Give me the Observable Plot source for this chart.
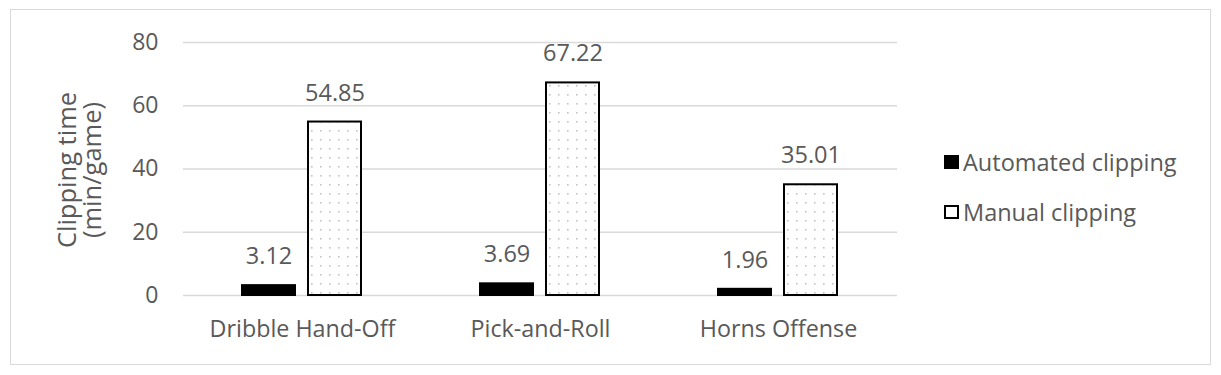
<!DOCTYPE html>
<html>
<head>
<meta charset="utf-8">
<script src="https://cdn.jsdelivr.net/npm/d3@7"></script>
<script src="https://cdn.jsdelivr.net/npm/@observablehq/plot@0.6"></script>
<style>
  html, body { margin: 0; padding: 0; background: #fff; }
  body { width: 1221px; height: 375px; position: relative; overflow: hidden; font-family: "Open Sans", sans-serif; }
  #frame { position: absolute; left: 10px; top: 9px; width: 1201px; height: 356px; box-sizing: border-box; border: 1.5px solid #d9d9d9; }
  #chart { position: absolute; left: 0; top: 0; }
  #ylabel { position: absolute; left: 79px; top: 170px; transform: translate(-50%, -50%) rotate(-90deg); text-align: center; color: #595959; font-size: 25.5px; line-height: 25px; white-space: nowrap; }
  #legend { position: absolute; left: 944px; top: 146px; color: #595959; font-size: 23.5px; }
  .item { display: flex; align-items: center; height: 32px; margin-bottom: 18px; white-space: nowrap; }
  .sw { width: 15px; height: 14px; box-sizing: border-box; margin-right: 4px; }
</style>
</head>
<body>
<div id="frame"></div>
<div id="chart"></div>
<div id="ylabel">Clipping time<br>(min/game)</div>
<div id="legend"></div>
<script>
const categories = ["Dribble Hand-Off", "Pick-and-Roll", "Horns Offense"];
const series = ["Automated clipping", "Manual clipping"];
const automated = [3.12, 3.69, 1.96];
const manual = [54.85, 67.22, 35.01];
const yTicks = [0, 20, 40, 60, 80];

const data = categories.flatMap((c, i) => [
  {category: c, series: series[0], value: automated[i]},
  {category: c, series: series[1], value: manual[i]}
]);

const fills = {"Automated clipping": "#000000", "Manual clipping": "url(#dots)"};

const chart = Plot.plot({
  width: 930,
  height: 375,
  marginLeft: 182,
  marginRight: 33,
  marginTop: 42,
  marginBottom: 80,
  style: {fontFamily: "'Open Sans', sans-serif", background: "transparent"},
  fx: {domain: categories, padding: 0, label: null},
  x: {domain: series, axis: null, paddingInner: 0.194, paddingOuter: 0.876},
  y: {domain: [0, 80], label: null},
  marks: [
    Plot.gridY(yTicks, {stroke: "#d9d9d9", strokeOpacity: 1, strokeWidth: 1.5}),
    Plot.axisY(yTicks, {tickSize: 0, tickPadding: 25, fontSize: 23, fill: "#595959", label: null}),
    Plot.axisFx({anchor: "bottom", tickSize: 0, tickPadding: 25, fontSize: 23.3, fill: "#595959", label: null}),
    Plot.barY(data, {fx: "category", x: "series", y: "value", fill: d => fills[d.series], stroke: "#000", strokeWidth: 2}),
    Plot.text(data, {fx: "category", x: "series", y: "value", text: d => d.value.toFixed(2), dy: -29, fontSize: 23.5, fill: "#595959"})
  ]
});

// dotted pattern for manual bars
const ns = "http://www.w3.org/2000/svg";
const defs = document.createElementNS(ns, "defs");
defs.innerHTML = `<pattern id="dots" width="9" height="9" patternUnits="userSpaceOnUse">
  <rect width="9" height="9" fill="#ffffff"/>
  <rect x="4" y="4" width="1.6" height="1.6" fill="#c4c4c4"/>
</pattern>`;
chart.insertBefore(defs, chart.firstChild);
document.getElementById("chart").appendChild(chart);

// legend
const legend = document.getElementById("legend");
series.forEach(s => {
  const item = document.createElement("div");
  item.className = "item";
  const sw = document.createElement("span");
  sw.className = "sw";
  if (s === series[0]) { sw.style.background = "#000"; }
  else { sw.style.border = "2px solid #000"; sw.style.background = "#fff"; }
  const t = document.createElement("span");
  t.textContent = s;
  item.appendChild(sw); item.appendChild(t);
  legend.appendChild(item);
});
</script>
</body>
</html>
